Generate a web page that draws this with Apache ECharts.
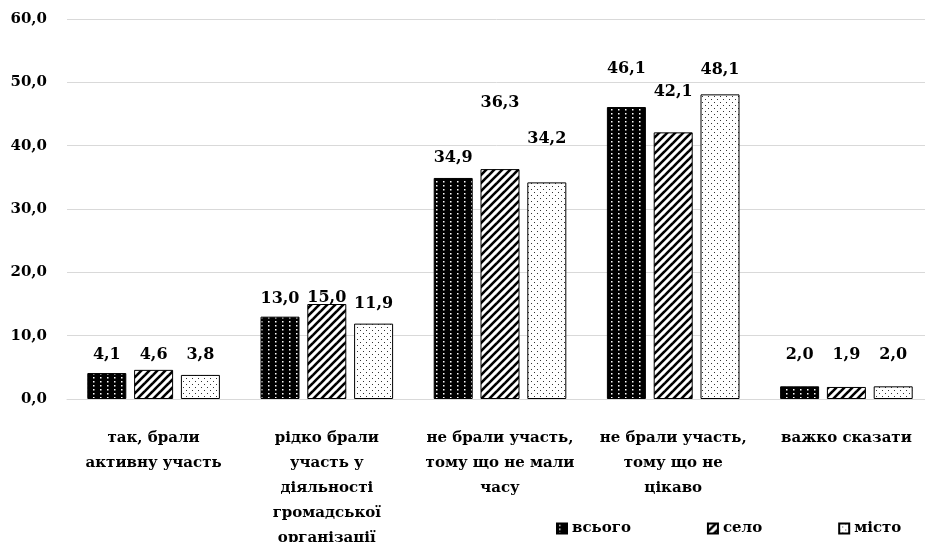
<!DOCTYPE html>
<html><head><meta charset="utf-8">
<script src="https://cdn.jsdelivr.net/npm/echarts@6/dist/echarts.min.js"></script>
<style>html,body{margin:0;padding:0;background:#fff}#c{width:925px;height:542px}</style>
</head><body><div id="c"></div>
<script>
const categories = [
  'так, брали\nактивну участь',
  'рідко брали\nучасть у\nдіяльності\nгромадської\nорганізації',
  'не брали участь,\nтому що не мали\nчасу',
  'не брали участь,\nтому що не\nцікаво',
  'важко сказати'
];
const seriesNames = ['всього', 'село', 'місто'];
const vsogo = [4.1, 13.0, 34.9, 46.1, 2.0];
const selo = [4.6, 15.0, 36.3, 42.1, 1.9];
const misto = [3.8, 11.9, 34.2, 48.1, 2.0];
const yTicks = [0, 10, 20, 30, 40, 50, 60];
// extra upward shift (px) of manually placed value labels
const liftVsogo = [0, 0, 2, 20, 13];
const liftSelo = [-3, -12, 48, 23, 14];
const liftMisto = [2, 2, 26, 7, 13];

function tile(w, h, draw) {
  const c = document.createElement('canvas');
  c.width = w; c.height = h;
  const ctx = c.getContext('2d');
  draw(ctx, w, h);
  return c;
}
const patBlack = tile(7, 4, (ctx, w, h) => {
  ctx.fillStyle = '#000'; ctx.fillRect(0, 0, w, h);
  ctx.fillStyle = '#fff'; ctx.fillRect(2, 1, 1.5, 1.5);
});
const patStripe = tile(8, 8, (ctx, w, h) => {
  ctx.fillStyle = '#fff'; ctx.fillRect(0, 0, w, h);
  ctx.strokeStyle = '#000'; ctx.lineWidth = 2.6;
  for (let k = -1; k <= 1; k++) {
    ctx.beginPath();
    ctx.moveTo(k * w - 1, h + 1);
    ctx.lineTo(k * w + w + 1, -1);
    ctx.stroke();
  }
});
const patDots = tile(6, 6, (ctx, w, h) => {
  ctx.fillStyle = '#fff'; ctx.fillRect(0, 0, w, h);
  ctx.fillStyle = '#333'; ctx.fillRect(0, 0, 1, 1); ctx.fillRect(3, 3, 1, 1);
});

const fmt = v => v.toFixed(1).replace('.', ',');
const font = 'DejaVu Serif';

function mk(name, vals, lifts, pat) {
  return {
    name: name, type: 'bar', barWidth: 39, barGap: '20%',
    itemStyle: { color: { image: pat, repeat: 'repeat' }, borderColor: '#000', borderWidth: 1 },
    data: vals.map((v, i) => ({
      value: v,
      label: { offset: [0, -lifts[i]] }
    })),
    label: {
      show: true, position: 'top', distance: 10,
      formatter: p => fmt(p.value),
      fontFamily: font, fontWeight: 'bold', fontSize: 16, color: '#000'
    }
  };
}

const chart = echarts.init(document.getElementById('c'), null, { renderer: 'canvas' });
chart.setOption({
  animation: false,
  backgroundColor: '#fff',
  grid: { left: 67, width: 866, top: 19, bottom: 143, containLabel: false, outerBoundsMode: 'none' },
  legend: {
    data: seriesNames, left: 551, top: 516, itemWidth: 10, itemHeight: 10, itemGap: 76, icon: 'rect',
    textStyle: { fontFamily: font, fontWeight: 'bold', fontSize: 15, color: '#000' }
  },
  xAxis: {
    type: 'category', data: categories,
    axisLine: { show: true, lineStyle: { color: '#d9d9d9' } },
    axisTick: { show: false },
    axisLabel: { interval: 0, margin: 27, lineHeight: 25, fontFamily: font, fontWeight: 'bold', fontSize: 15, color: '#000' }
  },
  yAxis: {
    type: 'value', min: yTicks[0], max: yTicks[yTicks.length - 1], interval: 10,
    axisLine: { show: false }, axisTick: { show: false },
    splitLine: { lineStyle: { color: '#d9d9d9' } },
    axisLabel: { formatter: v => fmt(v), margin: 20, fontFamily: font, fontWeight: 'bold', fontSize: 15, color: '#000' }
  },
  series: [mk(seriesNames[0], vsogo, liftVsogo, patBlack), mk(seriesNames[1], selo, liftSelo, patStripe), mk(seriesNames[2], misto, liftMisto, patDots)]
});
</script></body></html>
